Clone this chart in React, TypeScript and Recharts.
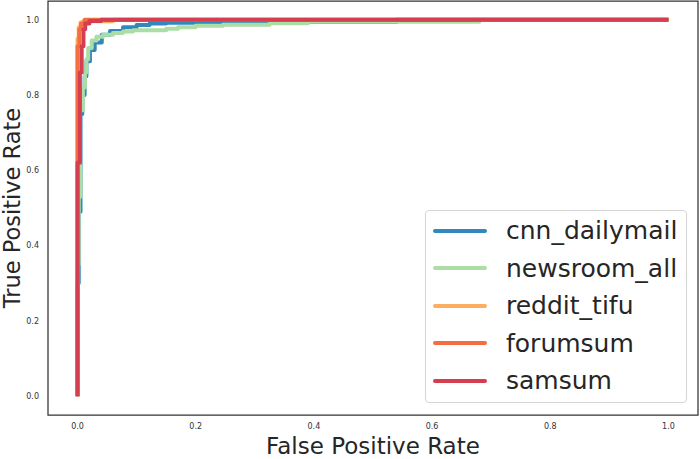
import { Legend, Line, LineChart, ReferenceArea, XAxis, YAxis } from "recharts";

const ticks = [0, 0.2, 0.4, 0.6, 0.8, 1.0];

// ROC curves: [fpr, tpr] step points
const cnnDailymail: [number, number][] = [
  [0, 0], [0, 0.3], [0.002, 0.3], [0.002, 0.49], [0.005, 0.49], [0.005, 0.75],
  [0.008, 0.75], [0.008, 0.8], [0.012, 0.8], [0.012, 0.85], [0.015, 0.85],
  [0.015, 0.89], [0.021, 0.89], [0.021, 0.92], [0.029, 0.92], [0.029, 0.94],
  [0.041, 0.94], [0.041, 0.96], [0.055, 0.96], [0.055, 0.97], [0.077, 0.97],
  [0.077, 0.98], [0.1, 0.98], [0.1, 0.986], [0.122, 0.986], [0.122, 0.99],
  [0.15, 0.99], [0.15, 0.992], [0.25, 0.992], [0.25, 0.994], [0.54, 0.994],
  [0.54, 1], [1, 1],
];

const newsroomAll: [number, number][] = [
  [0, 0], [0, 0.35], [0.002, 0.35], [0.002, 0.53], [0.005, 0.53], [0.005, 0.61],
  [0.004, 0.61], [0.004, 0.76],
  [0.009, 0.76], [0.009, 0.82], [0.0125, 0.82], [0.0125, 0.86], [0.015, 0.86],
  [0.015, 0.895], [0.018, 0.895], [0.018, 0.925], [0.024, 0.925], [0.024, 0.945],
  [0.032, 0.945], [0.032, 0.955], [0.043, 0.955], [0.043, 0.96], [0.06, 0.96],
  [0.06, 0.965], [0.077, 0.965], [0.077, 0.969], [0.094, 0.969], [0.094, 0.972],
  [0.15, 0.972], [0.15, 0.976], [0.17, 0.976], [0.17, 0.98], [0.2, 0.98],
  [0.2, 0.984], [0.246, 0.984], [0.246, 0.987], [0.325, 0.987], [0.325, 0.991],
  [0.39, 0.991], [0.39, 0.995], [0.68, 0.995], [0.68, 1], [1, 1],
];

const redditTifu: [number, number][] = [
  [0, 0], [0, 0.95], [0.002, 0.95], [0.002, 0.98], [0.005, 0.98], [0.005, 0.993],
  [0.01, 0.993], [0.01, 0.996], [0.06, 0.996], [0.06, 1], [1, 1],
];

const forumsum: [number, number][] = [
  [0, 0], [0, 0.93], [0.003, 0.93], [0.003, 0.975], [0.006, 0.975], [0.006, 0.99],
  [0.012, 0.99], [0.012, 1], [1, 1],
];

const samsum: [number, number][] = [
  [0, 0], [0, 0.62], [0.004, 0.62], [0.004, 0.86], [0.007, 0.86], [0.007, 0.93],
  [0.01, 0.93], [0.01, 0.975], [0.013, 0.975], [0.013, 0.99], [0.02, 0.99],
  [0.02, 0.997], [0.04, 0.997], [0.04, 1], [1, 1],
];

const series = [
  { name: "cnn_dailymail", color: "#3288bd", points: cnnDailymail },
  { name: "newsroom_all", color: "#abdda4", points: newsroomAll },
  { name: "reddit_tifu", color: "#fdae61", points: redditTifu },
  { name: "forumsum", color: "#f46d43", points: forumsum },
  { name: "samsum", color: "#d53e4f", points: samsum },
];

const font = "'DejaVu Sans', sans-serif";

function RocLegend() {
  return (
    <div
      style={{
        boxSizing: "border-box",
        width: 262,
        height: 193,
        border: "1px solid #d6d6d6",
        borderRadius: 4,
        background: "rgba(255,255,255,0.8)",
        paddingTop: 1,
        fontFamily: font,
        fontSize: 25,
        color: "#262626",
      }}
    >
      {series.map((s) => (
        <div key={s.name} style={{ height: 37.5, display: "flex", alignItems: "center" }}>
          <div
            style={{
              marginLeft: 7,
              width: 54,
              height: 4,
              borderRadius: 2,
              background: s.color,
            }}
          />
          <span style={{ marginLeft: 19, lineHeight: "37.5px" }}>{s.name}</span>
        </div>
      ))}
    </div>
  );
}

export default function App() {
  return (
    <div style={{ position: "absolute", left: 0, top: 0, background: "#fff" }}>
      <LineChart width={700} height={459} margin={{ top: 1, right: 2, bottom: 0, left: 0 }}>
        <XAxis
          type="number"
          dataKey="0"
          domain={[-0.05, 1.05]}
          ticks={ticks}
          tickFormatter={(v: number) => v.toFixed(1)}
          allowDataOverflow
          height={44}
          axisLine={false}
          tickLine={false}
          tickSize={0}
          tickMargin={8}
          tick={{ fontSize: 8, fill: "#333", fontFamily: font }}
          label={(props: any) => {
            const vb = props.viewBox;
            return (
              <text
                x={vb.x + vb.width / 2}
                y={454}
                textAnchor="middle"
                fontSize={23}
                fill="#262626"
                fontFamily={font}
              >
                False Positive Rate
              </text>
            );
          }}
        />
        <YAxis
          type="number"
          dataKey="1"
          domain={[-0.05, 1.05]}
          ticks={ticks}
          tickFormatter={(v: number) => v.toFixed(1)}
          allowDataOverflow
          width={48}
          axisLine={false}
          tickLine={false}
          tickSize={0}
          tickMargin={9}
          tick={{ fontSize: 8, fill: "#333", fontFamily: font }}
          label={(props: any) => {
            const vb = props.viewBox;
            const cy = vb.y + vb.height / 2;
            return (
              <text
                x={19.5}
                y={cy}
                transform={`rotate(-90 19.5 ${cy})`}
                textAnchor="middle"
                fontSize={22.5}
                fill="#262626"
                fontFamily={font}
              >
                True Positive Rate
              </text>
            );
          }}
        />
        {series.map((s) => (
          <Line
            key={s.name}
            name={s.name}
            data={s.points}
            dataKey="1"
            type="linear"
            stroke={s.color}
            strokeWidth={4}
            strokeLinejoin="round"
            dot={false}
            activeDot={false}
            isAnimationActive={false}
          />
        ))}
        <ReferenceArea
          x1={-0.05}
          x2={1.05}
          y1={-0.05}
          y2={1.05}
          fill="none"
          stroke="#333"
          strokeWidth={1.25}
          ifOverflow="visible"
        />
        <Legend
          layout="vertical"
          align="center"
          verticalAlign="middle"
          content={() => <RocLegend />}
          wrapperStyle={{ left: 425, top: 210, width: 262, height: 193 }}
        />
      </LineChart>
    </div>
  );
}
